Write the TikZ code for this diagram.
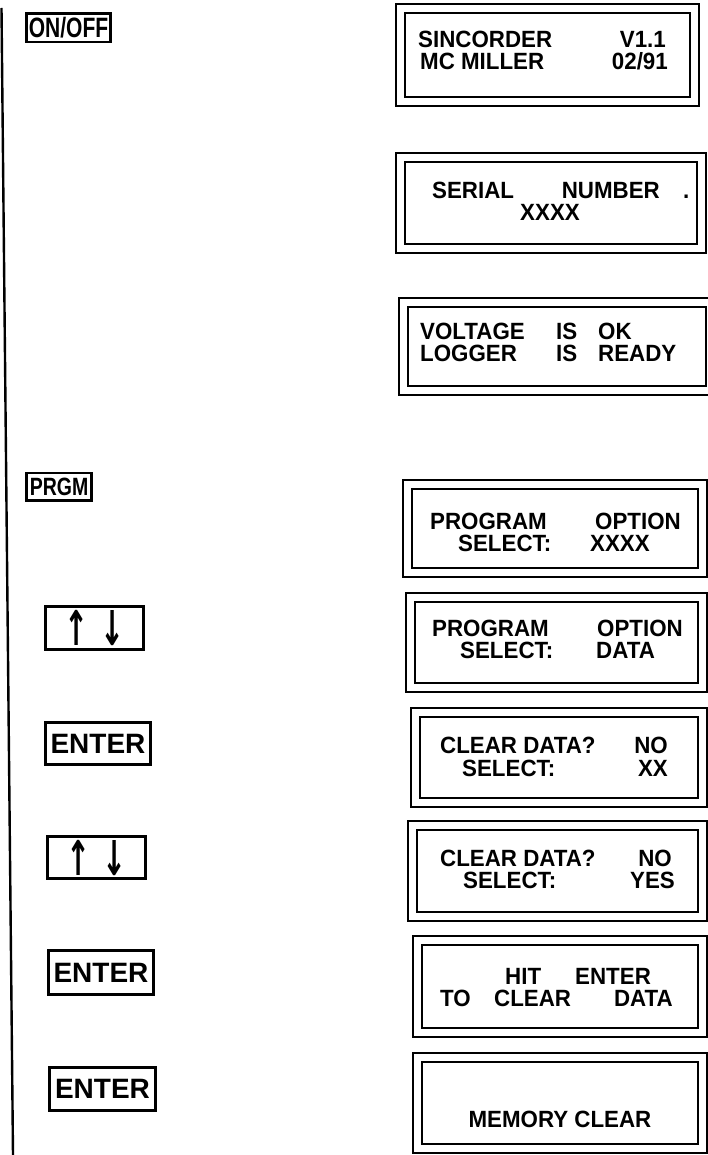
\documentclass[tikz,border=0pt]{standalone}
\usepackage{fontspec}
\usepackage{graphicx}
\setmainfont{Liberation Sans}
\newfontfamily\dispfont[FakeStretch=0.95]{Liberation Sans}
\newfontfamily\arrfont{DejaVu Sans}
\newcommand{\keytxt}[3]{\scalebox{#1}[1]{\bfseries\fontsize{#2}{#2}\selectfont #3}}
\newcommand{\arrglyph}[1]{\scalebox{0.6}[1]{\arrfont\bfseries\fontsize{48}{48}\selectfont #1}}
\begin{document}
\begin{tikzpicture}[x=1pt,y=-1pt,
  disp/.style={draw, double, double distance=7pt, line width=1.9pt, inner sep=0pt},
  btn/.style={draw, line width=2.6pt, inner sep=0pt},
  wd/.style={inner sep=0pt, text height=17pt, text depth=0pt, font=\dispfont\bfseries\fontsize{23.5}{23.5}\selectfont},
  wl/.style={wd, anchor=base west},
  wr/.style={wd, anchor=base east},
  wc/.style={wd, anchor=base},
]
\useasboundingbox (0,0) rectangle (708,1155);
% left rule
\coordinate (lt) at (1.5,8);
\coordinate (lb) at (13,1155);
\draw[line width=2.4pt] (lt) -- (lb);

% buttons
\node[btn, minimum width=84.4pt, minimum height=28.4pt] (onoff) at (68.5,28) {\keytxt{0.75}{28}{ON/OFF}};
\node[btn, minimum width=65.4pt, minimum height=27.4pt] (prgm) at (59,486.5) {\keytxt{0.78}{25}{PRGM}};
\node[btn, minimum width=98.4pt, minimum height=43.4pt] (ud1) at (94.5,628) {\arrglyph{↑}\hspace{12pt}\arrglyph{↓}};
\node[btn, minimum width=105.4pt, minimum height=42.4pt] (ent1) at (98,743.5) {\keytxt{1}{28}{ENTER}};
\node[btn, minimum width=98.4pt, minimum height=42.4pt] (ud2) at (96.5,857.5) {\arrglyph{↑}\hspace{12pt}\arrglyph{↓}};
\node[btn, minimum width=105.4pt, minimum height=44.4pt] (ent2) at (101,972.5) {\keytxt{1}{28}{ENTER}};
\node[btn, minimum width=106.4pt, minimum height=43.4pt] (ent3) at (102.5,1089) {\keytxt{1}{28}{ENTER}};

% display frames
\node[disp, minimum width=294pt, minimum height=93pt] (d1) at (547.5,55) {};
\node[disp, minimum width=301pt, minimum height=91pt] (d2) at (551,203) {};
\node[disp, minimum width=307pt, minimum height=88pt] (d3) at (557,346.5) {};
\node[disp, minimum width=295pt, minimum height=88pt] (d4) at (555,528.5) {};
\node[disp, minimum width=292pt, minimum height=90pt] (d5) at (556.5,642.5) {};
\node[disp, minimum width=287pt, minimum height=90pt] (d6) at (559,757.5) {};
\node[disp, minimum width=290pt, minimum height=91pt] (d7) at (557.5,871) {};
\node[disp, minimum width=285pt, minimum height=92pt] (d8) at (560,986.5) {};
\node[disp, minimum width=285pt, minimum height=91pt] (d9) at (560,1103) {};

% display texts
\node[wl] (t1a) at (418,48) {SINCORDER};
\node[wr] (t1b) at (666,48) {V1.1};
\node[wl] (t1c) at (420,70) {MC MILLER};
\node[wr] (t1d) at (668,70) {02/91};

\node[wl] (t2a) at (432,199) {SERIAL};
\node[wr] (t2b) at (660,199) {NUMBER};
\node[wl] (t2c) at (683,199) {.};
\node[wc] (t2d) at (550,221) {XXXX};

\node[wl] (t3a) at (420,339) {VOLTAGE};
\node[wl] (t3b) at (556,339) {IS};
\node[wl] (t3c) at (598,339) {OK};
\node[wl] (t3d) at (420,361) {LOGGER};
\node[wl] (t3e) at (556,361) {IS};
\node[wl] (t3f) at (598,361) {READY};

\node[wl] (t4a) at (430,529) {PROGRAM};
\node[wr] (t4b) at (681,529) {OPTION};
\node[wl] (t4c) at (458,551) {SELECT:};
\node[wl] (t4d) at (590,551) {XXXX};

\node[wl] (t5a) at (432,636) {PROGRAM};
\node[wr] (t5b) at (683,636) {OPTION};
\node[wl] (t5c) at (460,658) {SELECT:};
\node[wl] (t5d) at (596,658) {DATA};

\node[wl] (t6a) at (440,753) {CLEAR DATA?};
\node[wr] (t6b) at (668,753) {NO};
\node[wl] (t6c) at (462,776) {SELECT:};
\node[wr] (t6d) at (668,776) {XX};

\node[wl] (t7a) at (440,866) {CLEAR DATA?};
\node[wr] (t7b) at (672,866) {NO};
\node[wl] (t7c) at (463,888) {SELECT:};
\node[wr] (t7d) at (675,888) {YES};

\node[wl] (t8a) at (505,984) {HIT};
\node[wl] (t8b) at (575,984) {ENTER};
\node[wl] (t8c) at (440,1006) {TO};
\node[wl] (t8d) at (494,1006) {CLEAR};
\node[wr] (t8e) at (673,1006) {DATA};

\node[wc] (t9a) at (560,1127) {MEMORY CLEAR};
\end{tikzpicture}
\end{document}
